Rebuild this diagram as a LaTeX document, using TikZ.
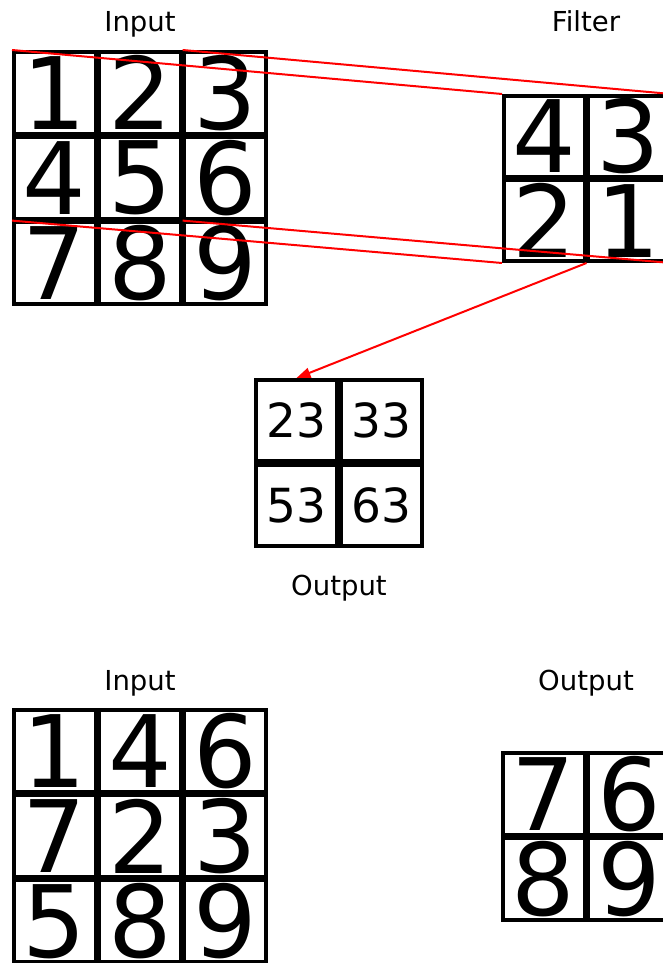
\documentclass[tikz,border=0pt]{standalone}
\usepackage{fontspec}
\setmainfont{DejaVu Sans}
\usetikzlibrary{arrows.meta}
\begin{document}
\begin{tikzpicture}[x=1pt,y=-1pt,
  cellA/.style={draw, line width=3.6pt, inner sep=0pt, minimum size=81.7pt,
                font=\fontsize{100}{100}\selectfont},
  cellF/.style={draw, line width=3.6pt, inner sep=0pt, minimum size=80.9pt,
                font=\fontsize{100}{100}\selectfont},
  cellO/.style={draw, line width=3.6pt, inner sep=0pt, minimum size=81.4pt,
                font=\fontsize{47}{47}\selectfont},
  cellB/.style={draw, line width=3.6pt, inner sep=0pt, minimum size=81.9pt,
                font=\fontsize{100}{100}\selectfont},
  lbl/.style={anchor=base, inner sep=0pt, font=\fontsize{27.5}{27.5}\selectfont},
  redline/.style={draw=red, line width=2pt}]
\useasboundingbox (0,0) rectangle (662,963);

% input matrix (top)
\node[cellA] (in11) at (54.65,92.65)  {1};
\node[cellA] (in12) at (139.95,92.65) {2};
\node[cellA] (in13) at (225.25,92.65) {3};
\node[cellA] (in21) at (54.65,177.95)  {4};
\node[cellA] (in22) at (139.95,177.95) {5};
\node[cellA] (in23) at (225.25,177.95) {6};
\node[cellA] (in31) at (54.65,263.25)  {7};
\node[cellA] (in32) at (139.95,263.25) {8};
\node[cellA] (in33) at (225.25,263.25) {9};
\node[lbl] (inlbl) at (140,32) {Input};

% filter
\node[cellF] (f11) at (544.25,136.25) {4};
\node[cellF] (f12) at (628.75,136.25) {3};
\node[cellF] (f21) at (544.25,220.75) {2};
\node[cellF] (f22) at (628.75,220.75) {1};
\node[lbl] (flbl) at (586,32) {Filter};

% output of the convolution
\node[cellO] (o11) at (296.5,420.5) {23};
\node[cellO] (o12) at (381.5,420.5) {33};
\node[cellO] (o21) at (296.5,505.5) {53};
\node[cellO] (o22) at (381.5,505.5) {63};
\node[lbl] (olbl) at (339,595) {Output};

% window projected onto the filter
\draw[redline] (in11.north west) -- (f11.north west);
\draw[redline] (in12.north east) -- (f12.north east);
\draw[redline] (in21.south west) -- (f21.south west);
\draw[redline] (in22.south east) -- (f22.south east);
\draw[redline, -{Triangle[length=14pt,width=10pt]}] (f21.south east) -- (o11.north);

% input matrix (bottom)
\node[cellA] (bi11) at (54.65,750.65)  {1};
\node[cellA] (bi12) at (139.95,750.65) {4};
\node[cellA] (bi13) at (225.25,750.65) {6};
\node[cellA] (bi21) at (54.65,835.95)  {7};
\node[cellA] (bi22) at (139.95,835.95) {2};
\node[cellA] (bi23) at (225.25,835.95) {3};
\node[cellA] (bi31) at (54.65,921.25)  {5};
\node[cellA] (bi32) at (139.95,921.25) {8};
\node[cellA] (bi33) at (225.25,921.25) {9};
\node[lbl] (bilbl) at (140,690) {Input};

% output matrix (bottom)
\node[cellB] (bo11) at (543.75,793.75) {7};
\node[cellB] (bo12) at (629.25,793.75) {6};
\node[cellB] (bo21) at (543.75,879.25) {8};
\node[cellB] (bo22) at (629.25,879.25) {9};
\node[lbl] (bolbl) at (586,690) {Output};
\end{tikzpicture}
\end{document}
